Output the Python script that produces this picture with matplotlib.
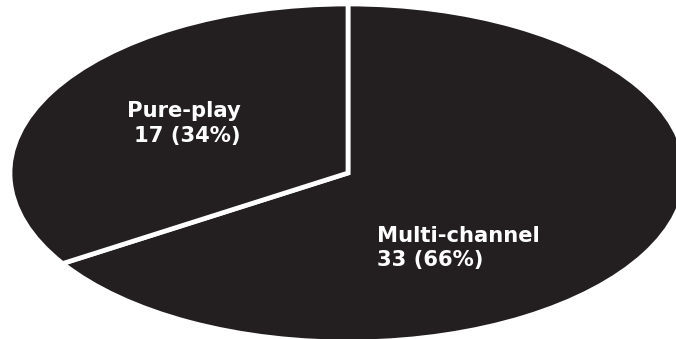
import matplotlib
matplotlib.use("Agg")
import matplotlib.pyplot as plt

# Store formats in the sample
categories = ["Multi-channel", "Pure-play"]
counts = [33, 17]
percents = [66, 34]

W, H = 676, 339
fig = plt.figure(figsize=(W / 100, H / 100), dpi=100)
ax = fig.add_axes([0, 0, 1, 1])

slice_color = "#231f20"
ax.pie(counts, startangle=90, counterclock=False, radius=1.0,
       colors=[slice_color, slice_color],
       wedgeprops=dict(edgecolor="white", linewidth=3.4))

# stretch the pie into a wide ellipse that runs off the right edge
cx, cy = 348, 173          # centre in pixels (from top-left)
rx, ry = 338, 169          # radii in pixels
ax.set_aspect("auto")
ax.set_xlim(-cx / rx, (W - cx) / rx)
ax.set_ylim(-(H - cy) / ry, cy / ry)
ax.axis("off")

def px(x, y):
    return x / W, 1 - y / H

font = dict(family="DejaVu Sans", weight="bold", size=15.2, color="white")

labels = [f"{c}\n{n} ({p}%)" for c, n, p in zip(categories, counts, percents)]

# Multi-channel: left aligned
l1, l2 = labels[0].split("\n")
fig.text(*px(377, 242), l1, ha="left", va="baseline", **font)
fig.text(*px(377, 266), l2, ha="left", va="baseline", **font)

# Pure-play: right aligned
l1, l2 = labels[1].split("\n")
fig.text(*px(241, 117), l1, ha="right", va="baseline", **font)
fig.text(*px(241, 142), l2, ha="right", va="baseline", **font)

fig.savefig("out.png", dpi=100, facecolor="white")
